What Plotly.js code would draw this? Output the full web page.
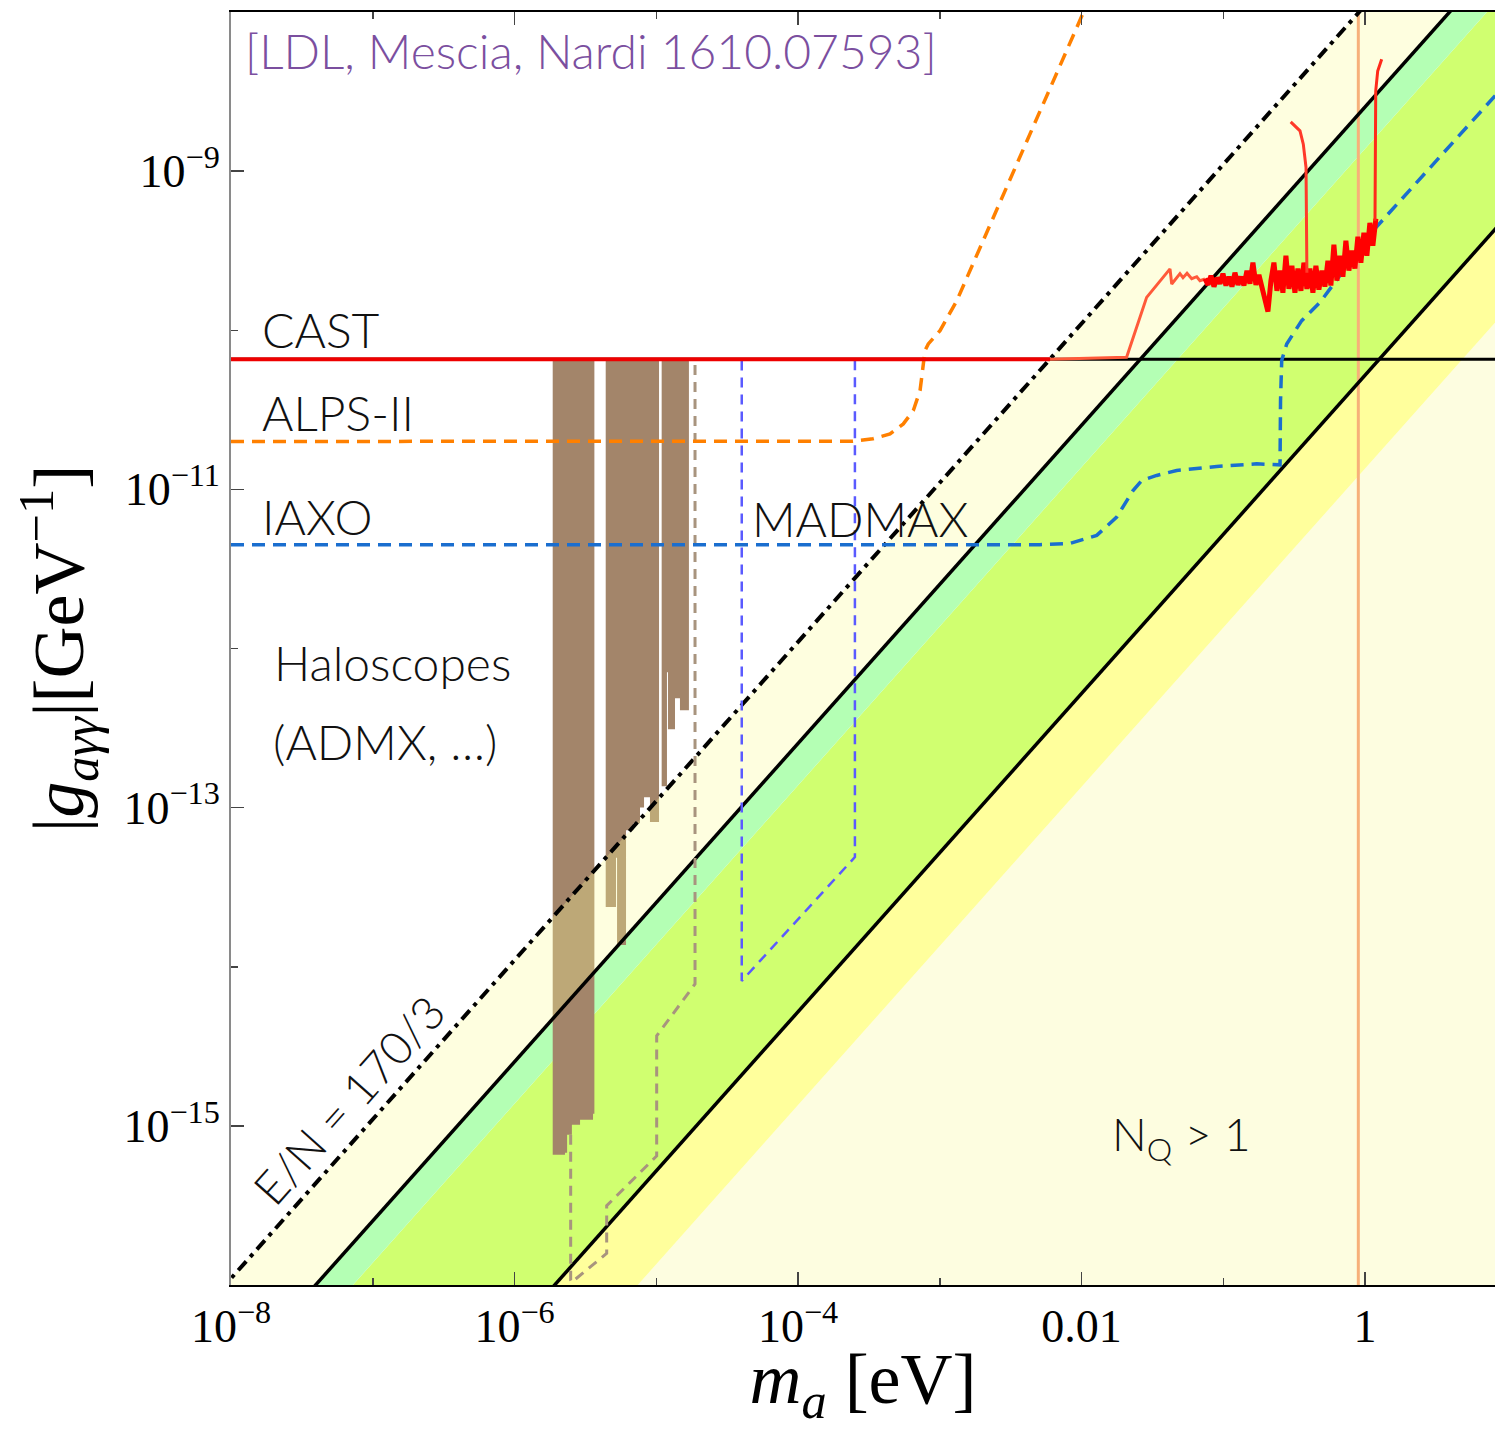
<!DOCTYPE html>
<html><head><meta charset="utf-8">
<script src="https://cdn.plot.ly/plotly-3.0.1.min.js"></script>
<style>html,body{margin:0;padding:0;background:#fff;overflow:hidden}</style>
</head><body><div id="chart" style="width:1495px;height:1429px"></div>
<script>
// ---------- data (m_a in eV, |g| in GeV^-1) ----------
const bandM      = [1e-9, 100];
const lineEN170  = [1.10e-17, 1.10e-6];   // E/N = 170/3
const lineUpper  = [2.53e-18, 2.53e-7];   // upper solid line
const edgeMint   = [1.38e-18, 1.38e-7];
const lineLower  = [5.21e-20, 5.21e-9];   // lower solid line
const edgeYellow = [1.35e-20, 1.35e-9];
const gFloor     = [1e-22, 1e-22];

const hbM = [1e-8, 10];           const hbG = [6.57e-11, 6.57e-11];
const castM = [1e-8, 6.0e-3];     const castG = [6.57e-11, 6.57e-11];
const castHeM = [6.0e-3, 2.08e-2, 2.88e-2, 4.21e-2, 4.33e-2, 4.95e-2, 5.20e-2, 5.55e-2, 5.99e-2, 6.50e-2, 6.85e-2, 7.43e-2];
const castHeG = [6.57e-11, 6.76e-11, 1.609e-10, 2.43e-10, 1.953e-10, 2.27e-10, 2.14e-10, 2.28e-10, 2.11e-10, 2.17e-10, 2.05e-10, 2.10e-10];
const castNoiseM = [0.0743,0.0780,0.0819,0.0860,0.0903,0.0948,0.0995,0.1045,0.1097,0.1152,0.1209,0.1270,0.1333,0.1399,0.1469,0.1542,0.1619,0.1700,0.1785,0.1874,0.1968,0.2066,0.2169,0.2277,0.2391,0.2510,0.2635,0.2767,0.2905,0.3050,0.3202,0.3362,0.3530,0.3706,0.3891,0.4085,0.4289,0.4503,0.4728,0.4964,0.5212,0.5472,0.5745,0.6032,0.6333,0.6649,0.6981,0.7329,0.7695,0.8079,0.8482,0.8905,0.9350,0.9817,1.0307,1.0821,1.1361,1.1928];
const castNoiseG = [2.11e-10,1.93e-10,2.20e-10,1.88e-10,2.14e-10,1.96e-10,2.27e-10,1.91e-10,2.17e-10,1.88e-10,
 2.30e-10,1.93e-10,2.17e-10,1.91e-10,2.37e-10,1.96e-10,2.66e-10,1.93e-10,2.23e-10,1.82e-10,
 1.53e-10,1.31e-10,2.05e-10,2.66e-10,1.77e-10,2.37e-10,1.72e-10,2.94e-10,1.82e-10,2.54e-10,
 1.72e-10,2.44e-10,1.77e-10,2.66e-10,1.82e-10,2.44e-10,1.72e-10,2.54e-10,1.80e-10,2.37e-10,
 1.88e-10,2.73e-10,1.91e-10,3.45e-10,2.05e-10,2.94e-10,2.17e-10,3.65e-10,2.37e-10,3.16e-10,
 2.44e-10,3.87e-10,2.66e-10,4.10e-10,2.94e-10,4.73e-10,3.40e-10,5.02e-10];
const spike1M = [0.3891, 0.3836, 0.367, 0.3478, 0.299];
const spike1G = [2.30e-10, 1.054e-9, 1.477e-9, 1.79e-9, 2.04e-9];
const spike2M = [1.176, 1.190, 1.229, 1.311];
const spike2G = [4.88e-10, 3.19e-9, 4.26e-9, 5.05e-9];

const alpsM = [1e-8, 2.44e-4, 3.38e-4, 4.46e-4, 5.53e-4, 6.51e-4, 7.26e-4, 7.66e-4, 7.87e-4, 8.30e-4, 1.004e-3, 1.317e-3, 1.025e-2, 1.15e-2];
const alpsG = [2.00e-11, 2.01e-11, 2.08e-11, 2.23e-11, 2.58e-11, 3.13e-11, 4.18e-11, 5.85e-11, 7.45e-11, 8.20e-11, 9.94e-11, 1.53e-10, 9.86e-9, 1.24e-8];

const iaxoM = [1e-8, 5.09e-3, 8.30e-3, 1.28e-2, 1.77e-2, 2.31e-2, 2.66e-2, 3.39e-2, 4.69e-2, 8.99e-2, 0.172, 0.2515, 0.2535, 0.2584, 0.2803, 0.3105, 0.3576, 0.4815, 1.139, 8.26, 10];
const iaxoG = [4.49e-12, 4.49e-12, 4.58e-12, 5.14e-12, 6.69e-12, 9.84e-12, 1.137e-11, 1.223e-11, 1.314e-11, 1.393e-11, 1.448e-11, 1.427e-11, 3.61e-11, 6.45e-11, 8.20e-11, 9.48e-11, 1.149e-10, 1.496e-10, 4.22e-10, 2.97e-9, 3.6e-9];

const madmaxM = [4.01e-5, 4.01e-5, 2.52e-4, 2.52e-4];
const madmaxG = [6.45e-11, 8.15e-15, 4.89e-14, 6.45e-11];

const haloFutM = [2.49e-6, 2.49e-6, 2.53e-6, 4.47e-6, 4.47e-6, 1.007e-5, 1.007e-5, 1.877e-5, 1.877e-5];
const haloFutG = [8.8e-16, 1.07e-16, 1.04e-16, 1.58e-16, 3.15e-16, 6.47e-16, 3.68e-15, 7.79e-15, 6.57e-11];

// haloscope exclusions: bin edges (eV) and lower bound of each bin (GeV^-1); upper bound = CAST
const haloTop = 6.57e-11;
const halo1Edges = [1.86e-6, 2.27e-6, 2.35e-6, 2.54e-6, 2.90e-6, 3.58e-6, 3.66e-6];
const halo1Low   = [6.58e-16, 6.78e-16, 8.79e-16, 1.016e-15, 1.092e-15, 1.19e-15];
const halo2Edges = [4.40e-6, 5.20e-6, 5.29e-6, 6.12e-6, 6.90e-6, 7.68e-6, 8.20e-6, 9.03e-6, 1.046e-5];
const halo2Low   = [2.37e-14, 4.84e-14, 1.37e-14, 7.22e-14, 7.99e-14, 1.00e-13, 1.164e-13, 8.11e-14];
const halo3Edges = [1.092e-5, 1.19e-5, 1.21e-5, 1.356e-5, 1.47e-5, 1.70e-5];
const halo3Low   = [1.364e-13, 7.09e-13, 3.11e-13, 4.87e-13, 4.09e-13];

const hdmM = [0.897, 0.897]; const hdmG = [1e-17, 1e-7];

const xTickVals = [1e-8, 1e-6, 1e-4, 1e-2, 1];
const xTickText = ['10<sup>−8</sup>', '10<sup>−6</sup>', '10<sup>−4</sup>', '0.01', '1'];
const xMinor = [1e-7, 1e-5, 1e-3, 1e-1, 10];
const yTickVals = [1e-9, 1e-11, 1e-13, 1e-15];
const yTickText = ['10<sup>−9</sup>', '10<sup>−11</sup>', '10<sup>−13</sup>', '10<sup>−15</sup>'];
const yMinor = [1e-8, 1e-10, 1e-12, 1e-14, 1e-16];

// ---------- build ----------
function band(upper, lower, color) {
  return {x: [bandM[0], bandM[1], bandM[1], bandM[0], bandM[0]],
          y: [upper[0], upper[1], lower[1], lower[0], upper[0]],
          mode: 'lines', fill: 'toself', fillcolor: color, line: {width: 0}, hoverinfo: 'skip', showlegend: false};
}
function bins(edges, low, color) {
  const xs = [edges[0], edges[edges.length - 1]], ys = [haloTop, haloTop];
  for (let i = low.length - 1; i >= 0; i--) { xs.push(edges[i + 1], edges[i]); ys.push(low[i], low[i]); }
  xs.push(edges[0]); ys.push(haloTop);
  return {x: xs, y: ys, mode: 'lines', fill: 'toself', fillcolor: color, line: {width: 0}, hoverinfo: 'skip', showlegend: false};
}
function line(x, y, color, width, dash) {
  return {x: x, y: y, mode: 'lines', line: {color: color, width: width, dash: dash || 'solid'}, hoverinfo: 'skip', showlegend: false};
}
const brown = '#a3856a';
const traces = [
  band(edgeYellow, gFloor, '#fdfde0'),
  band(lineLower, edgeYellow, '#ffff9c'),
  band(edgeMint, lineLower, '#d0ff70'),
  band(lineUpper, edgeMint, '#b4ffb4'),
  bins(halo1Edges, halo1Low, brown),
  bins(halo2Edges, halo2Low, brown),
  bins(halo3Edges, halo3Low, brown),
  band(lineEN170, lineUpper, 'rgba(252,252,150,0.30)'),
  line(hdmM, hdmG, '#f7b07a', 3),
  line(hbM, hbG, '#000', 3),
  line(bandM, lineUpper, '#000', 3.5),
  line(bandM, lineLower, '#000', 3.5),
  line(bandM, lineEN170, '#000', 4, '12px,6px,4px,6px'),
  line(madmaxM, madmaxG, '#5a5aff', 2.5, '10px,7px'),
  line(haloFutM, haloFutG, '#a8947e', 3, '10px,7px'),
  line(alpsM, alpsG, '#ff8000', 3.5, '13px,8px'),
  line(iaxoM, iaxoG, '#1a6ecf', 3.5, '13px,8px'),
  line(castM, castG, '#ee0000', 4),
  line(castHeM, castHeG, '#ff5a3a', 3),
  line(castNoiseM, castNoiseG, '#ff0000', 5),
  line(spike1M, spike1G, '#ff3a2a', 3),
  line(spike2M, spike2G, '#ff2a1a', 3)
];

const lab = {family: 'Lato, "Open Sans", sans-serif', size: 48, color: '#111', weight: 300};
function ann(text, x, y, opts) {
  return Object.assign({text: text, x: x, y: y, xref: 'x', yref: 'y', showarrow: false, xanchor: 'left', yanchor: 'middle', font: lab}, opts || {});
}
const annotations = [
  ann('[LDL, Mescia, Nardi 1610.07593]', -7.915, -8.245, {font: Object.assign({}, lab, {color: '#7b4f9f'})}),
  ann('CAST', -7.795, -9.996),
  ann('ALPS-II', -7.795, -10.520),
  ann('IAXO', -7.795, -11.170),
  ann('MADMAX', -4.339, -11.183),
  ann('Haloscopes', -7.713, -12.085),
  ann('(ADMX, …)', -7.720, -12.587),
  ann('N<sub>Q</sub> > 1', -1.8025, -15.072, {font: Object.assign({}, lab, {size: 46})}),
  ann('E/N = 170/3', -7.168, -14.836, {xanchor: 'center', textangle: -48.3, font: Object.assign({}, lab, {size: 46})})
];

const serif = {family: '"Liberation Serif", "DejaVu Serif", serif', size: 46, color: '#000'};
const layout = {
  width: 1495, height: 1429,
  margin: {l: 231, r: 0, t: 12, b: 144, pad: 0},
  paper_bgcolor: '#fff', plot_bgcolor: '#fff',
  showlegend: false,
  xaxis: {type: 'log', range: [-8, 0.917], autorange: false,
    tickvals: xTickVals, ticktext: xTickText, ticks: 'inside', ticklen: 13, tickwidth: 1.5, tickcolor: '#444',
    minor: {tickvals: xMinor, ticks: 'inside', ticklen: 7, tickwidth: 1.5, tickcolor: '#444'},
    showline: true, linecolor: '#000', linewidth: 2, mirror: 'ticks', showgrid: false, zeroline: false,
    tickfont: serif, automargin: false,
    title: {text: '<i>m<sub>a</sub></i> [eV]', font: {family: '"Liberation Serif", serif', size: 72, color: '#000'}, standoff: 19}},
  yaxis: {type: 'log', range: [-16, -8], autorange: false,
    tickvals: yTickVals, ticktext: yTickText, ticks: 'inside', ticklen: 13, tickwidth: 1.5, tickcolor: '#444',
    minor: {tickvals: yMinor, ticks: 'inside', ticklen: 7, tickwidth: 1.5, tickcolor: '#444'},
    showline: true, linecolor: '#8a8a8a', linewidth: 2, mirror: false, showgrid: false, zeroline: false,
    tickfont: serif, automargin: false,
    title: {text: '|<i>g<sub>aγγ</sub></i>|[GeV<sup>−1</sup>]', font: {family: '"Liberation Serif", serif', size: 72, color: '#000'}, standoff: 16}},
  annotations: annotations
};
Plotly.newPlot('chart', traces, layout, {displayModeBar: false, staticPlot: true});
</script></body></html>
